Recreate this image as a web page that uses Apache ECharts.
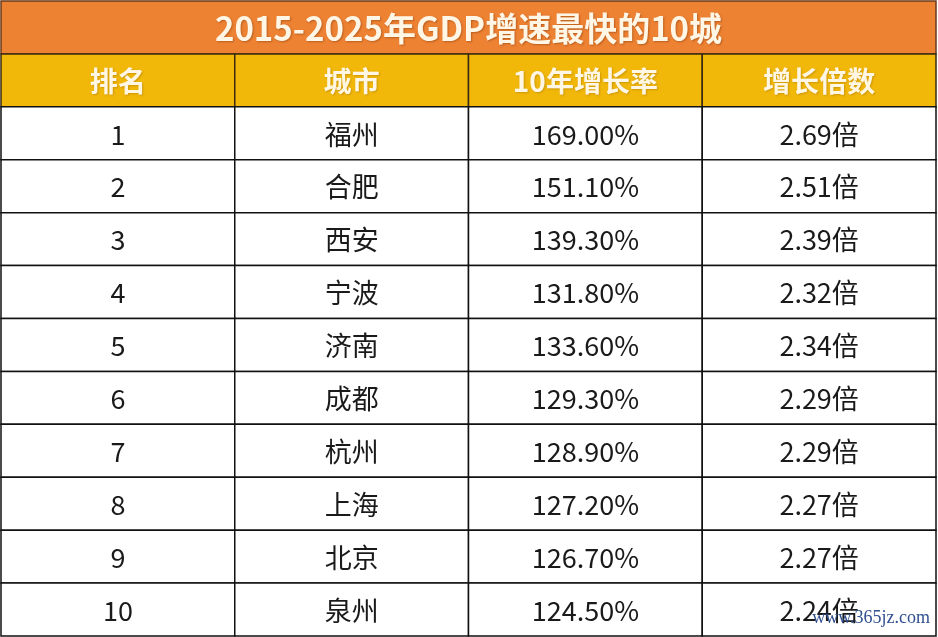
<!DOCTYPE html>
<html>
<head>
<meta charset="utf-8">
<script src="https://cdn.jsdelivr.net/npm/echarts@6/dist/echarts.min.js"></script>
<style>
  html, body { margin: 0; padding: 0; background: #ffffff; }
  #chart { width: 938px; height: 637px; }
</style>
</head>
<body>
<div id="chart"></div>
<script>
// Table data
const titleText = "2015-2025年GDP增速最快的10城";
const headers = ["排名", "城市", "10年增长率", "增长倍数"];
const ranks = ["1", "2", "3", "4", "5", "6", "7", "8", "9", "10"];
const cities = ["福州", "合肥", "西安", "宁波", "济南", "成都", "杭州", "上海", "北京", "泉州"];
const growthRates = [169.0, 151.1, 139.3, 131.8, 133.6, 129.3, 128.9, 127.2, 126.7, 124.5];
const multiples = [2.69, 2.51, 2.39, 2.32, 2.34, 2.29, 2.29, 2.27, 2.27, 2.24];

const rowNames = ["title", "header"].concat(ranks);

// build cells: [col, row] + kind + text
const cells = [];
cells.push({ value: [0, 0], kind: "title", text: titleText });
headers.forEach((h, c) => cells.push({ value: [c, 1], kind: "header", text: h }));
ranks.forEach((r, i) => {
  const row = i + 2;
  cells.push({ value: [0, row], kind: "body", text: r });
  cells.push({ value: [1, row], kind: "body", text: cities[i] });
  cells.push({ value: [2, row], kind: "body", text: growthRates[i].toFixed(2) + "%" });
  cells.push({ value: [3, row], kind: "body", text: multiples[i].toFixed(2) + "倍" });
});

const chart = echarts.init(document.getElementById("chart"));

function renderCell(params, api) {
  const cell = cells[params.dataIndex];
  const size = api.size([1, 1]);
  const w = size[0], h = size[1];
  const center = api.coord([api.value(0), api.value(1)]);
  let x = center[0] - w / 2;
  let width = w;
  if (cell.kind === "title") {
    const last = api.coord([headers.length - 1, 0]);
    width = last[0] + w / 2 - x;
  }
  const y = center[1] - h / 2;
  let fill = "#ffffff", stroke = "#111111", font, color = "#1a1a1a", shadow = null;
  if (cell.kind === "title") {
    fill = "#ee8233";
    stroke = "#6b3a1a";
    font = "bold 33px 'Noto Sans CJK SC', sans-serif";
    color = "#fff6e6";
    shadow = "rgba(120,50,0,0.45)";
  } else if (cell.kind === "header") {
    fill = "#f1b80a";
    stroke = "#3a2a10";
    font = "bold 28px 'Noto Sans CJK SC', sans-serif";
    color = "#fff7e4";
    shadow = "rgba(140,90,0,0.35)";
  } else {
    font = "27px 'Noto Sans CJK SC', sans-serif";
  }
  return {
    type: "group",
    children: [
      {
        type: "rect",
        shape: { x: x, y: y, width: width, height: h },
        style: { fill: fill, stroke: stroke, lineWidth: 1.5 }
      },
      {
        type: "text",
        style: {
          x: x + width / 2,
          y: y + h / 2 + 1,
          text: cell.text,
          font: font,
          fill: color,
          align: "center",
          verticalAlign: "middle",
          textShadowColor: shadow || "transparent",
          textShadowBlur: shadow ? 2 : 0,
          textShadowOffsetX: shadow ? 1 : 0,
          textShadowOffsetY: shadow ? 1 : 0
        }
      }
    ]
  };
}

chart.setOption({
  animation: false,
  backgroundColor: "#ffffff",
  grid: { left: 1, top: 1, width: 935, height: 635 },
  xAxis: { type: "category", data: headers, show: false },
  yAxis: { type: "category", data: rowNames, inverse: true, show: false },
  series: [
    {
      type: "custom",
      renderItem: renderCell,
      data: cells,
      encode: { x: 0, y: 1 }
    }
  ],
  graphic: [
    {
      type: "text",
      right: 8,
      bottom: 10,
      z: 100,
      style: {
        text: "www.365jz.com",
        font: "18px 'Liberation Serif', 'DejaVu Serif', serif",
        fill: "#2f4f8f"
      }
    }
  ]
});
</script>
</body>
</html>
